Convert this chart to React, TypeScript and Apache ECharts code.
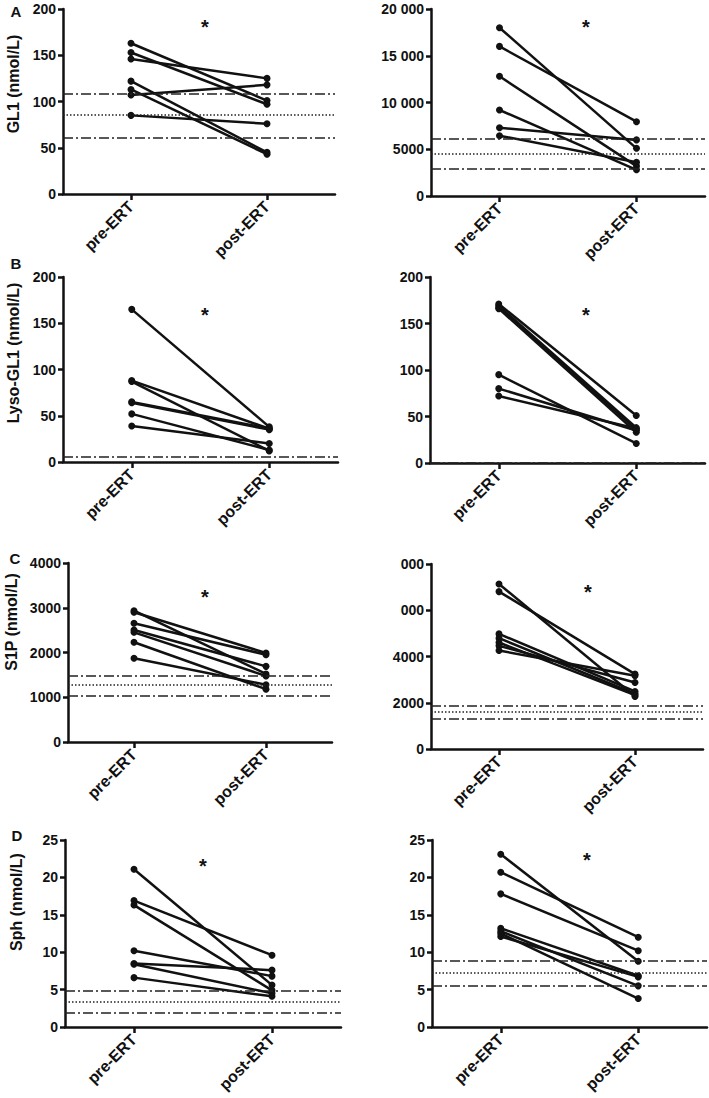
import React, { useEffect, useRef } from "react";
import * as echarts from "echarts";

const categories = ["pre-ERT", "post-ERT"];

const aLeftPre = [163, 153, 146, 122, 113, 107, 85];
const aLeftPost = [101, 97, 125, 45, 43, 118, 76];
const aLeftRef = [108, 85.5, 61];

const aRightPre = [18000, 16000, 12800, 9200, 7300, 6450];
const aRightPost = [5100, 7950, 3200, 2800, 6000, 3600];
const aRightRef = [6150, 4500, 2900];

const bLeftPre = [165, 88, 87, 65, 64, 52, 39];
const bLeftPost = [38, 36, 12, 36, 35, 13, 20];
const bLeftRef = [6];

const bRightPre = [171, 169, 167, 166, 95, 80, 72];
const bRightPost = [51, 38, 36, 33, 21, 35, 37];
const bRightRef = [0.7];

const cLeftPre = [2934, 2898, 2652, 2503, 2451, 2228, 1870];
const cLeftPost = [1520, 1990, 1950, 1690, 1475, 1180, 1280];
const cLeftRef = [1490, 1290, 1043];

const cRightPre = [7137, 6806, 4978, 4791, 4604, 4460, 4259];
const cRightPost = [2273, 3237, 2489, 2388, 2330, 2878, 3165];
const cRightRef = [1870, 1597, 1309];

const dLeftPre = [21.1, 16.9, 16.3, 10.2, 8.5, 8.4, 6.6];
const dLeftPost = [5.6, 9.6, 4.9, 6.8, 7.6, 4.5, 4.1];
const dLeftRef = [4.9, 3.4, 1.85];

const dRightPre = [23.1, 20.7, 17.8, 13.2, 12.8, 12.5, 12.1];
const dRightPost = [8.8, 12.0, 10.2, 6.85, 5.5, 3.8, 6.7];
const dRightRef = [8.9, 7.2, 5.5];

const aRightTicks: Record<number, string> = { 0: "0", 5000: "5000", 10000: "10 000", 15000: "15 000", 20000: "20 000" };
const cRightTicks: Record<number, string> = { 0: "0", 2000: "2000", 4000: "4000", 6000: "000", 8000: "000" };

const yTitles = ["GL1 (nmol/L)", "Lyso-GL1 (nmol/L)", "S1P (nmol/L)", "Sph (nmol/L)"];
const panelLetters = ["A", "B", "C", "D"];

const FONT = "'Liberation Sans', Arial, sans-serif";
const INK = "#111";

type Panel = {
  pre: number[];
  post: number[];
  refs: number[];
  refTypes: string[];
  max: number;
  interval: number;
  ticks?: Record<number, string>;
  grid: { left: number; top: number; width: number; height: number };
  star: [number, number];
};

const DASHDOT = "dashdot";
const DOTTED = "dotted";

const panels: Panel[] = [
  { pre: aLeftPre, post: aLeftPost, refs: aLeftRef, refTypes: [DASHDOT, DOTTED, DASHDOT], max: 200, interval: 50, grid: { left: 63, top: 9, width: 272, height: 185 }, star: [205, 27] },
  { pre: aRightPre, post: aRightPost, refs: aRightRef, refTypes: [DASHDOT, DOTTED, DASHDOT], max: 20000, interval: 5000, ticks: aRightTicks, grid: { left: 431, top: 9, width: 274, height: 187 }, star: [586, 27] },
  { pre: bLeftPre, post: bLeftPost, refs: bLeftRef, refTypes: [DASHDOT], max: 200, interval: 50, grid: { left: 63, top: 277, width: 275, height: 185 }, star: [205, 315] },
  { pre: bRightPre, post: bRightPost, refs: bRightRef, refTypes: [DASHDOT], max: 200, interval: 50, grid: { left: 430, top: 277, width: 275, height: 186 }, star: [586, 315] },
  { pre: cLeftPre, post: cLeftPost, refs: cLeftRef, refTypes: [DASHDOT, DOTTED, DASHDOT], max: 4000, interval: 1000, grid: { left: 68, top: 563, width: 264, height: 179 }, star: [205, 597] },
  { pre: cRightPre, post: cRightPost, refs: cRightRef, refTypes: [DASHDOT, DOTTED, DASHDOT], max: 8000, interval: 2000, ticks: cRightTicks, grid: { left: 431, top: 564, width: 272, height: 185 }, star: [588, 592] },
  { pre: dLeftPre, post: dLeftPost, refs: dLeftRef, refTypes: [DASHDOT, DOTTED, DASHDOT], max: 25, interval: 5, grid: { left: 65, top: 840, width: 276, height: 187 }, star: [203, 866] },
  { pre: dRightPre, post: dRightPost, refs: dRightRef, refTypes: [DASHDOT, DOTTED, DASHDOT], max: 25, interval: 5, grid: { left: 432, top: 840, width: 275, height: 187 }, star: [587, 860] },
];

const titlePos: [number, number][] = [[13, 84], [13, 353], [11, 622], [16, 902]];
const letterPos: [number, number][] = [[16, 11], [16, 263], [15, 558], [17, 835]];

export default function App() {
  const ref = useRef<HTMLDivElement>(null);
  useEffect(() => {
    document.body.style.margin = "0";
    if (!ref.current) return;
    const chart = echarts.init(ref.current, undefined, { renderer: "svg" });

    const grids: any[] = [];
    const xAxes: any[] = [];
    const yAxes: any[] = [];
    const series: any[] = [];

    panels.forEach((p, i) => {
      grids.push({ ...p.grid, containLabel: false });
      xAxes.push({
        type: "category",
        gridIndex: i,
        data: categories,
        boundaryGap: true,
        axisLine: { show: true, lineStyle: { color: INK, width: 2.5 } },
        axisTick: { show: true, alignWithLabel: true, length: 6, lineStyle: { color: INK, width: 2.5 } },
        axisLabel: { rotate: 45, margin: 10, color: INK, fontFamily: FONT, fontWeight: "bold", fontSize: 16 },
        splitLine: { show: false },
      });
      yAxes.push({
        type: "value",
        gridIndex: i,
        min: 0,
        max: p.max,
        interval: p.interval,
        axisLine: { show: true, lineStyle: { color: INK, width: 2.5 } },
        axisTick: { show: true, length: 5, lineStyle: { color: INK, width: 2.5 } },
        splitLine: { show: false },
        axisLabel: {
          margin: 7,
          color: INK,
          fontFamily: FONT,
          fontWeight: "bold",
          fontSize: 14,
          formatter: (v: number) => (p.ticks ? p.ticks[v] ?? String(v) : String(v)),
        },
      });
      p.pre.forEach((pre, k) => {
        const s: any = {
          type: "line",
          xAxisIndex: i,
          yAxisIndex: i,
          data: [pre, p.post[k]],
          symbol: "circle",
          symbolSize: 7,
          itemStyle: { color: INK },
          lineStyle: { color: INK, width: 2.5 },
          silent: true,
          z: 3,
        };
        if (k === 0) {
          s.markLine = {
            silent: true,
            symbol: "none",
            label: { show: false },
            data: p.refs.map((v, r) => ({
              yAxis: v,
              lineStyle: {
                color: "#222",
                width: 1.5,
                type: p.refTypes[r] === DASHDOT ? [10, 3, 2, 3] : [1.5, 2],
              },
            })),
          };
        }
        series.push(s);
      });
    });

    const graphics: any[] = [];
    panels.forEach((p) => {
      graphics.push({
        type: "text",
        x: p.star[0],
        y: p.star[1],
        style: { text: "*", font: `bold 20px ${FONT}`, fill: INK, textAlign: "center", textVerticalAlign: "middle" },
      });
    });
    yTitles.forEach((t, r) => {
      graphics.push({
        type: "text",
        x: titlePos[r][0],
        y: titlePos[r][1],
        rotation: Math.PI / 2,
        style: { text: t, font: `bold 16px ${FONT}`, fill: INK, textAlign: "center", textVerticalAlign: "middle" },
      });
      graphics.push({
        type: "text",
        x: letterPos[r][0],
        y: letterPos[r][1],
        style: { text: panelLetters[r], font: `bold 15px ${FONT}`, fill: INK, textAlign: "center", textVerticalAlign: "middle" },
      });
    });

    chart.setOption({
      animation: false,
      backgroundColor: "#fff",
      grid: grids,
      xAxis: xAxes,
      yAxis: yAxes,
      series,
      graphic: graphics,
    });
    return () => chart.dispose();
  }, []);
  return <div ref={ref} style={{ position: "absolute", left: 0, top: 0, width: 709, height: 1098 }} />;
}
